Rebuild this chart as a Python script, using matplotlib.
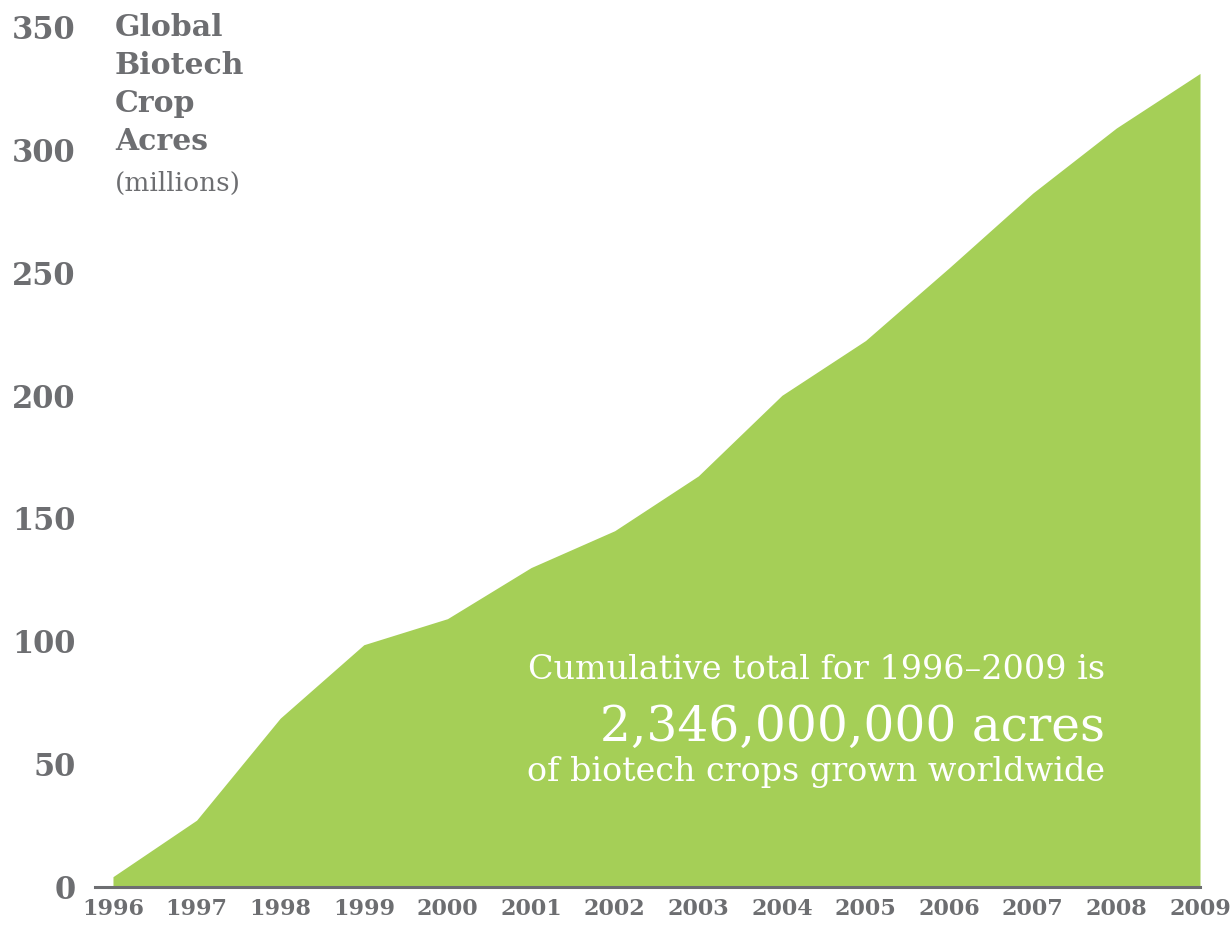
import matplotlib
matplotlib.use("Agg")
import matplotlib.pyplot as plt

years = [1996, 1997, 1998, 1999, 2000, 2001, 2002, 2003, 2004, 2005, 2006, 2007, 2008, 2009]
acres_millions = [4.2, 27.2, 68.7, 98.6, 109.2, 130.0, 145.0, 167.3, 200.1, 222.4, 252.0, 282.4, 308.9, 331.1]
y_ticks = [0, 50, 100, 150, 200, 250, 300, 350]
title_lines = ["Global", "Biotech", "Crop", "Acres"]
subtitle = "(millions)"
note_line1 = "Cumulative total for 1996\u20132009 is"
note_line2 = "2,346,000,000 acres"
note_line3 = "of biotech crops grown worldwide"

GREEN = "#a5cf57"
GRAY = "#6d6e71"

W, H = 1230, 926
fig = plt.figure(figsize=(W / 100, H / 100), dpi=100)
ax = fig.add_axes([95 / W, 1 - 887 / H, (1200 - 95) / W, (887 - 27) / H])

ax.fill_between(years, acres_millions, 0, color=GREEN, linewidth=0)
ax.set_xlim(1995.785, 2009)
ax.set_ylim(0, 350)

for s in ["top", "right", "left"]:
    ax.spines[s].set_visible(False)
ax.spines["bottom"].set_color(GRAY)
ax.spines["bottom"].set_linewidth(2.2)

ax.set_yticks(y_ticks)
ax.set_yticklabels([str(v) for v in y_ticks], fontsize=22, fontweight="bold",
                   family="DejaVu Serif", color=GRAY)
ax.set_xticks(years)
ax.set_xticklabels([str(y) for y in years], fontsize=16, fontweight="bold",
                   family="DejaVu Serif", color=GRAY)
ax.tick_params(axis="y", length=0, pad=14)
ax.tick_params(axis="x", length=0, pad=8)

# Title block
tx = 115 / W
for i, line in enumerate(title_lines):
    fig.text(tx, 1 - (27 + 38 * i) / H, line, fontsize=21.5, fontweight="bold",
             family="DejaVu Serif", color=GRAY, ha="left", va="center")
fig.text(tx, 1 - 183 / H, subtitle, fontsize=19, family="DejaVu Serif",
         color=GRAY, ha="left", va="center")

# Annotation
rx = 1105 / W
fig.text(rx, 1 - 670 / H, note_line1, fontsize=24, family="DejaVu Serif",
         color="white", ha="right", va="center")
fig.text(rx, 1 - 727 / H, note_line2, fontsize=35, family="DejaVu Serif",
         color="white", ha="right", va="center")
fig.text(rx, 1 - 772 / H, note_line3, fontsize=24, family="DejaVu Serif",
         color="white", ha="right", va="center")

fig.savefig("out.png", dpi=100, facecolor="white")
